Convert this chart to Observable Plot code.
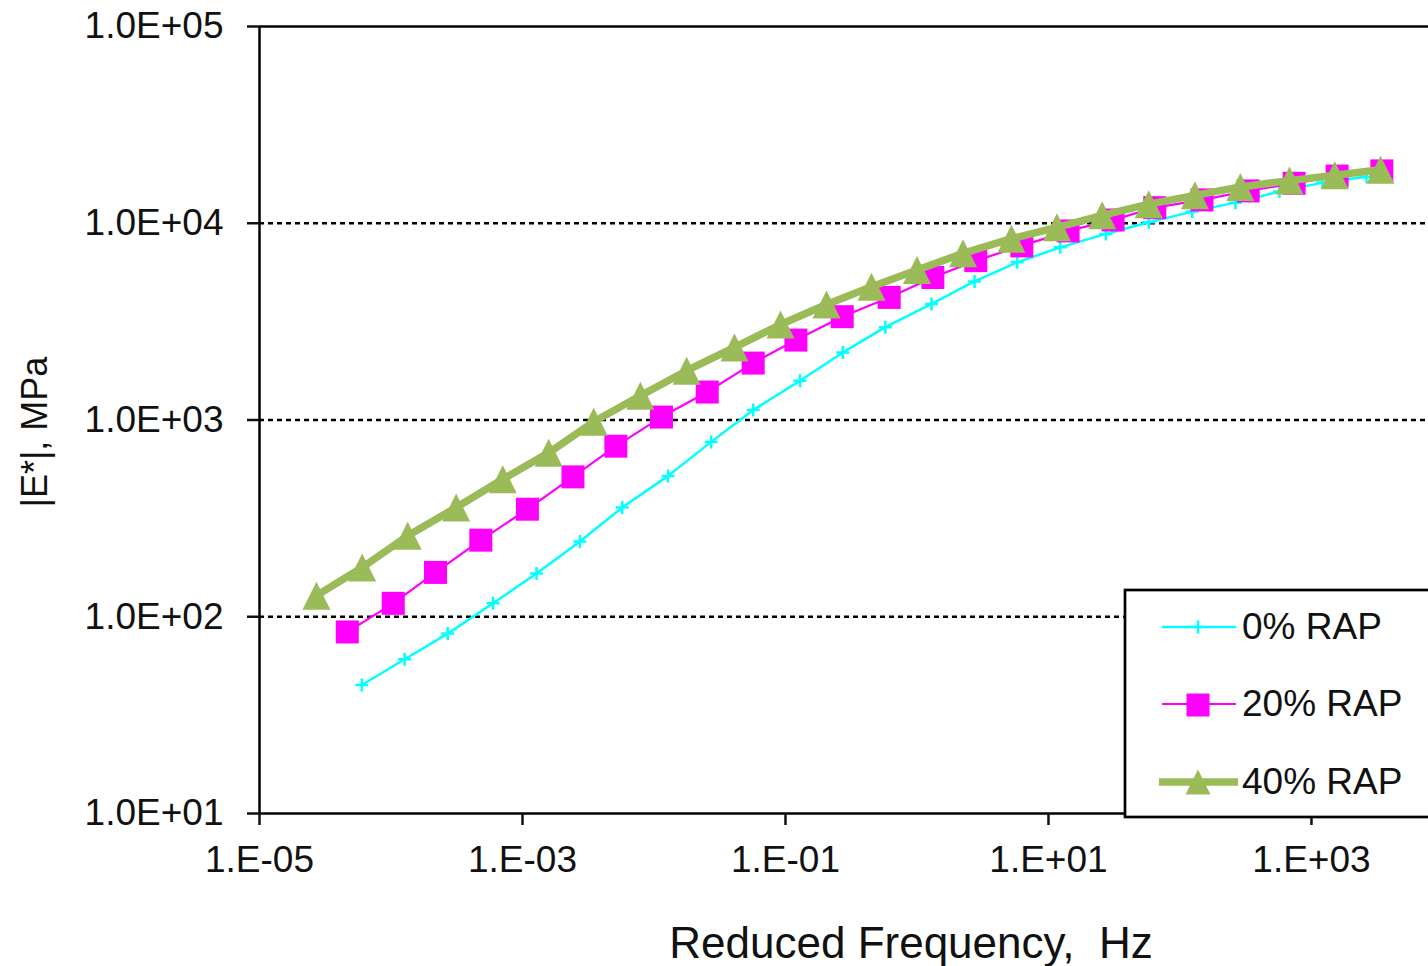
<!DOCTYPE html>
<html>
<head>
<meta charset="utf-8">
<script src="https://cdn.jsdelivr.net/npm/d3@7"></script>
<script src="https://cdn.jsdelivr.net/npm/@observablehq/plot@0.6"></script>
<style>
  html, body { margin: 0; padding: 0; background: #fff; }
  #chart svg { display: block; }
</style>
</head>
<body>
<div id="chart"></div>
<script>
// Series names
const seriesNames = ["0% RAP", "20% RAP", "40% RAP"];

// 0% RAP
const freq0 = [6.0e-5, 1.27e-4, 2.70e-4, 5.98e-4, 1.28e-3, 2.73e-3, 5.73e-3, 1.28e-2, 2.72e-2, 5.68e-2, 0.129, 0.273, 0.575, 1.29, 2.74, 5.78, 12.3, 27.3, 57.9, 124, 264, 571, 1213, 2620];
const mod0  = [45.0, 60.8, 82.1, 117, 166, 241, 359, 520, 774, 1123, 1583, 2205, 2963, 3888, 5061, 6327, 7542, 8826, 10110, 11460, 12730, 14480, 16090, 17250];

// 20% RAP
const freq20 = [4.65e-5, 1.04e-4, 2.18e-4, 4.82e-4, 1.09e-3, 2.42e-3, 5.13e-3, 1.14e-2, 2.54e-2, 5.68e-2, 0.120, 0.270, 0.615, 1.32, 2.80, 6.27, 14.1, 31.0, 64.3, 147, 330, 738, 1567, 3428];
const mod20  = [83.7, 117, 168, 245, 352, 514, 736, 1035, 1387, 1947, 2548, 3350, 4198, 5300, 6457, 7671, 9140, 10390, 12000, 13140, 14600, 15960, 17370, 18450];

// 40% RAP
const freq40 = [2.71e-5, 6.04e-5, 1.34e-4, 3.13e-4, 7.08e-4, 1.58e-3, 3.48e-3, 7.88e-3, 1.77e-2, 4.09e-2, 9.16e-2, 0.205, 0.451, 1.00, 2.24, 5.23, 11.6, 25.6, 57.9, 130, 288, 681, 1503, 3350];
const mod40  = [128, 178, 258, 359, 500, 681, 979, 1328, 1780, 2338, 3057, 3866, 4760, 5785, 7030, 8350, 9530, 10970, 12500, 13860, 15300, 16470, 17530, 18690];

// Ticks
const xTickValues = [1e-5, 1e-3, 1e-1, 1e1, 1e3];
const xTickLabels = ["1.E-05", "1.E-03", "1.E-01", "1.E+01", "1.E+03"];
const yTickValues = [1e1, 1e2, 1e3, 1e4, 1e5];
const yTickLabels = ["1.0E+01", "1.0E+02", "1.0E+03", "1.0E+04", "1.0E+05"];
const gridValues = [1e2, 1e3, 1e4];

const xLabel = "Reduced Frequency,  Hz";
const yLabel = "|E*|, MPa";

const colors = ["#00FFFF", "#FF00FF", "#9BBB59"];

const toRows = (f, m) => f.map((v, i) => ({f: v, e: m[i]}));
const rows0 = toRows(freq0, mod0);
const rows20 = toRows(freq20, mod20);
const rows40 = toRows(freq40, mod40);

// Custom marker shapes (fixed pixel size)
const plusSym = {draw(ctx) { const h = 6.5; ctx.moveTo(-h, 0); ctx.lineTo(h, 0); ctx.moveTo(0, -h); ctx.lineTo(0, h); }};
const squareSym = {draw(ctx) { const h = 11.5; ctx.rect(-h, -h, 2 * h, 2 * h); }};
const triSym = {draw(ctx) { const w = 14, h = 14; ctx.moveTo(0, -h); ctx.lineTo(w, h); ctx.lineTo(-w, h); ctx.closePath(); }};

const FONT = "'Liberation Sans', Arial, sans-serif";

const chart = Plot.plot({
  width: 1428,
  height: 966,
  marginLeft: 259,
  marginRight: 0,
  marginTop: 26,
  marginBottom: 153,
  style: {fontFamily: FONT, color: "#111", background: "#fff", overflow: "visible"},
  x: {type: "log", domain: [1e-5, Math.pow(10, 3.89)]},
  y: {type: "log", domain: [10, 1e5]},
  marks: [
    Plot.ruleY(gridValues, {stroke: "#000", strokeWidth: 2.5, strokeDasharray: "5,4"}),
    Plot.ruleY([1e5], {stroke: "#000", strokeWidth: 2.5}),
    Plot.ruleY([10], {stroke: "#000", strokeWidth: 2.5}),
    Plot.ruleX([1e-5], {stroke: "#000", strokeWidth: 2.5}),
    Plot.axisY(yTickValues, {
      tickSize: 12, tickPadding: 24, strokeWidth: 2.5, fontSize: 37, label: null,
      tickFormat: d => yTickLabels[yTickValues.indexOf(d)]
    }),
    Plot.axisX(xTickValues, {
      tickSize: 12, tickPadding: 20, strokeWidth: 2.5, fontSize: 37, label: null,
      tickFormat: d => xTickLabels[xTickValues.indexOf(d)]
    }),
    Plot.line(rows0, {x: "f", y: "e", stroke: colors[0], strokeWidth: 2.5}),
    Plot.dot(rows0, {x: "f", y: "e", symbol: plusSym, stroke: colors[0], strokeWidth: 2.5, fill: "none", r: 6}),
    Plot.line(rows20, {x: "f", y: "e", stroke: colors[1], strokeWidth: 2.2}),
    Plot.dot(rows20, {x: "f", y: "e", symbol: squareSym, fill: colors[1], stroke: "none", r: 6}),
    Plot.line(rows40, {x: "f", y: "e", stroke: colors[2], strokeWidth: 7.5}),
    Plot.dot(rows40, {x: "f", y: "e", symbol: triSym, fill: colors[2], stroke: "none", r: 6})
  ]
});

document.getElementById("chart").appendChild(chart);

const svg = d3.select(chart);

// Axis titles
svg.append("text")
  .attr("x", 911).attr("y", 958)
  .attr("text-anchor", "middle")
  .attr("font-family", FONT).attr("font-size", 44)
  .attr("fill", "#111")
  .style("white-space", "pre")
  .text(xLabel);

svg.append("text")
  .attr("transform", "translate(47,432) rotate(-90)")
  .attr("text-anchor", "middle")
  .attr("font-family", FONT).attr("font-size", 36)
  .attr("fill", "#111")
  .text(yLabel);

// Legend
const lg = svg.append("g").attr("text-anchor", "start");
lg.append("rect").attr("x", 1125).attr("y", 590).attr("width", 320).attr("height", 227)
  .attr("fill", "#fff").attr("stroke", "#000").attr("stroke-width", 2.7);

const legY = [627, 704, 782];
// 0%
lg.append("line").attr("x1", 1162).attr("x2", 1236).attr("y1", legY[0]).attr("y2", legY[0])
  .attr("stroke", colors[0]).attr("stroke-width", 2.5);
lg.append("path").attr("d", d3.symbol(plusSym)()).attr("transform", `translate(1198,${legY[0]})`)
  .attr("stroke", colors[0]).attr("stroke-width", 2.5).attr("fill", "none");
// 20%
lg.append("line").attr("x1", 1162).attr("x2", 1236).attr("y1", legY[1]).attr("y2", legY[1])
  .attr("stroke", colors[1]).attr("stroke-width", 2.2);
lg.append("path").attr("d", d3.symbol(squareSym)()).attr("transform", `translate(1198,${legY[1] + 1})`)
  .attr("fill", colors[1]);
// 40%
lg.append("line").attr("x1", 1159).attr("x2", 1238).attr("y1", legY[2]).attr("y2", legY[2])
  .attr("stroke", colors[2]).attr("stroke-width", 7.5);
lg.append("path").attr("d", "M0,-12.5L12.5,12.5L-12.5,12.5Z").attr("transform", `translate(1198,${legY[2]})`)
  .attr("fill", colors[2]);

seriesNames.forEach((name, i) => {
  lg.append("text").attr("x", 1242).attr("y", legY[i] + 12)
    .attr("text-anchor", "start")
    .attr("font-family", FONT).attr("font-size", 37).attr("fill", "#111")
    .text(name);
});
</script>
</body>
</html>
